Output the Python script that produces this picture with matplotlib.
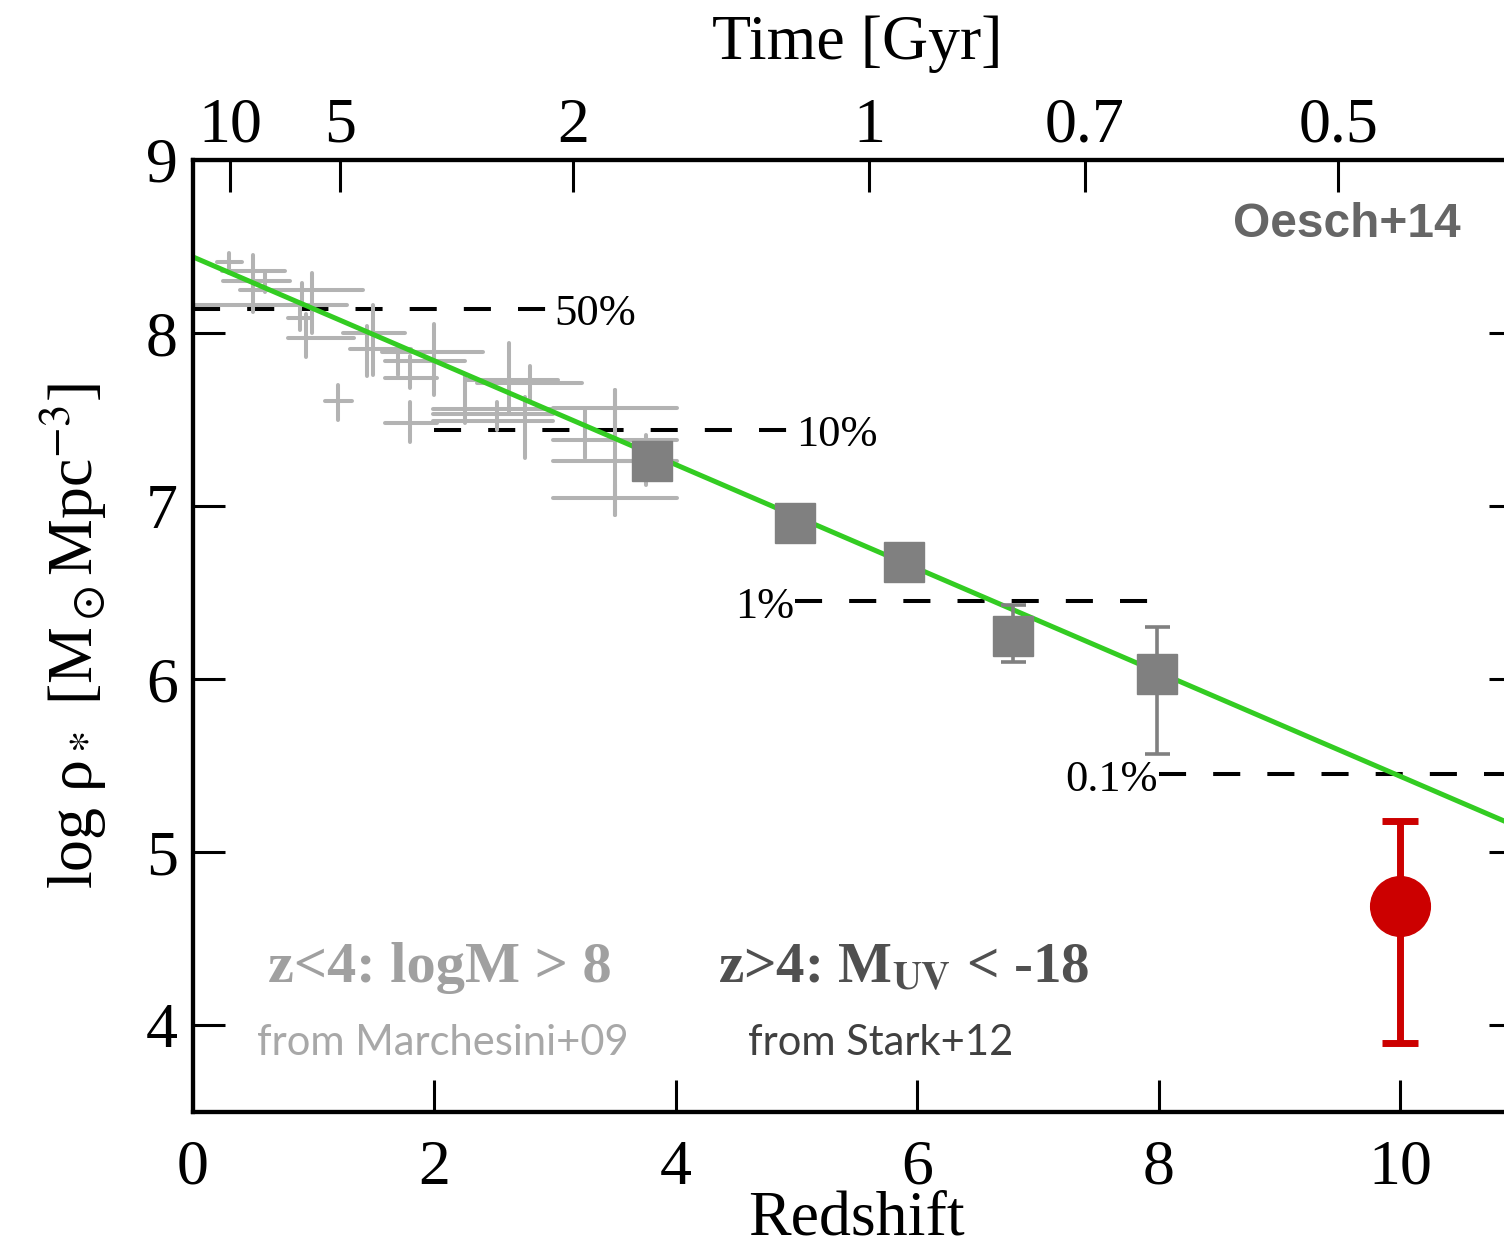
import matplotlib
matplotlib.use("Agg")
import matplotlib.pyplot as plt
import numpy as np

plt.rcParams['font.family'] = ['Liberation Serif', 'DejaVu Serif']
plt.rcParams['mathtext.fontset'] = 'stix'
plt.rcParams['lines.scale_dashes'] = False

# ---- data ----
# Marchesini+09 gray crosses: x center, x lo, x hi, y center, y lo, y hi
m09_z    = [0.30, 0.50, 0.60, 0.90, 0.99, 0.89, 0.94, 1.20, 1.49, 1.44, 2.00, 1.70, 1.80, 1.80, 2.62, 2.79, 2.25, 2.52, 2.75, 3.25, 3.50, 3.50, 3.50, 3.75]
m09_zlo  = [0.20, 0.24, 0.25, 0.39, 0.00, 0.79, 0.79, 1.09, 1.24, 1.30, 1.57, 1.59, 1.59, 1.59, 2.25, 2.35, 1.99, 1.99, 1.99, 2.98, 2.98, 2.98, 2.98, 3.50]
m09_zhi  = [0.41, 0.76, 0.80, 1.41, 1.28, 0.97, 1.33, 1.32, 1.76, 1.81, 2.40, 2.25, 2.02, 2.02, 3.02, 3.22, 2.98, 2.98, 2.98, 4.01, 4.01, 4.01, 4.01, 4.00]
m09_rho  = [8.41, 8.36, 8.30, 8.25, 8.16, 8.09, 7.97, 7.61, 8.00, 7.91, 7.89, 7.84, 7.74, 7.48, 7.73, 7.71, 7.56, 7.53, 7.49, 7.38, 7.26, 7.05, 7.57, 7.26]
m09_rlo  = [8.35, 8.12, 8.24, 8.16, 8.00, 8.02, 7.86, 7.50, 7.76, 7.75, 7.64, 7.76, 7.68, 7.37, 7.53, 7.60, 7.48, 7.44, 7.28, 7.28, 6.95, 6.95, 7.47, 7.12]
m09_rhi  = [8.46, 8.45, 8.35, 8.29, 8.35, 8.16, 8.11, 7.70, 8.16, 8.04, 8.05, 7.93, 7.87, 7.60, 7.94, 7.81, 7.75, 7.60, 7.63, 7.57, 7.67, 7.12, 7.67, 7.41]

# Stark+12 squares
s12_z   = [3.80, 4.99, 5.89, 6.79, 7.99]
s12_rho = [7.26, 6.90, 6.68, 6.25, 6.03]
s12_lo  = [7.26, 6.90, 6.68, 6.10, 5.57]
s12_hi  = [7.26, 6.90, 6.68, 6.43, 6.30]

# Oesch+14 z~10 point
o14_z, o14_rho, o14_lo, o14_hi = [10.0], [4.69], [3.90], [5.18]

# fit line
fit_z = [0.0, 11.0]
fit_intercept, fit_slope = 8.44, -0.30

# fractions of present-day density
frac_labels = ['50%', '10%', '1%', '0.1%']
frac_rho    = [8.14, 7.44, 6.45, 5.45]
frac_zstart = [0.0, 2.0, 4.99, 8.0]
frac_zend   = [2.94, 4.95, 7.93, 11.0]

# top axis: cosmic time
time_labels = ['10', '5', '2', '1', '0.7', '0.5']
time_z      = [0.31, 1.22, 3.15, 5.60, 7.39, 9.49]

xticks = [0, 2, 4, 6, 8, 10]
yticks = [4, 5, 6, 7, 8, 9]

# ---- figure ----
fig = plt.figure(figsize=(15.04, 12.51), dpi=100)
W, H = 1504, 1251
x0, x1, y0, y1 = 193, 193 + 11 * 120.7, 160, 1112
ax = fig.add_axes([x0 / W, 1 - y1 / H, (x1 - x0) / W, (y1 - y0) / H])
ax.set_xlim(0, 11)
ax.set_ylim(3.5, 9)

# gray crosses
cross_c = '#b3b3b3'
for z, zl, zh, r, rl, rh in zip(m09_z, m09_zlo, m09_zhi, m09_rho, m09_rlo, m09_rhi):
    ax.plot([zl, zh], [r, r], color=cross_c, lw=2.9, solid_capstyle='round', zorder=2)
    ax.plot([z, z], [rl, rh], color=cross_c, lw=2.9, solid_capstyle='round', zorder=2)

# fit line
fz = np.array(fit_z)
ax.plot(fz, fit_intercept + fit_slope * fz, color='#33cc22', lw=3.6, zorder=3)

# dashed fraction lines
for lab, r, zs, ze in zip(frac_labels, frac_rho, frac_zstart, frac_zend):
    ax.plot([zs, ze], [r, r], color='black', lw=2.9, dashes=(19.5, 19.5), zorder=1)
for lab, r, zs, ze in zip(frac_labels, frac_rho, frac_zstart, frac_zend):
    if lab in ('50%', '10%'):
        ax.text(ze + 0.05, r - 0.03, lab, ha='left', va='center', fontsize=32)
    else:
        ax.text(zs - 0.01, r - 0.03, lab, ha='right', va='center', fontsize=32)

# Stark squares
s12_z_a = np.array(s12_z); s12_r_a = np.array(s12_rho)
yerr = [s12_r_a - np.array(s12_lo), np.array(s12_hi) - s12_r_a]
ax.errorbar(s12_z_a, s12_r_a, yerr=yerr, fmt='s', color='#808080', ms=29,
            mec='#808080', elinewidth=2.6, capsize=9, capthick=2.6, zorder=4)

# Oesch red point
ax.errorbar(o14_z, o14_rho,
            yerr=[[o14_rho[0] - o14_lo[0]], [o14_hi[0] - o14_rho[0]]],
            fmt='o', color='#cc0000', ms=43, elinewidth=5, capsize=13, capthick=5, zorder=5)

# text annotations
ax.text(10.5, 8.63, 'Oesch+14', ha='right', va='center', fontsize=34.5,
        fontweight='bold', family=['Liberation Sans'], color='#666666')
ax.text(0.62, 4.33, 'z<4: logM > 8', ha='left', va='center', fontsize=42,
        fontweight='bold', color='#a0a0a0')
ax.text(4.35, 4.33, r'z>4: M$_{\mathbf{UV}}$ < -18', ha='left', va='center', fontsize=41,
        fontweight='bold', color='#505050')
ax.text(0.53, 3.90, 'from Marchesini+09', ha='left', va='center', fontsize=30,
        family=['Lato'], color='#a8a8a8')
ax.text(4.6, 3.90, 'from Stark+12', ha='left', va='center', fontsize=30,
        family=['Lato'], color='#404040')

# axes style
for s in ax.spines.values():
    s.set_linewidth(3)
ax.set_xticks(xticks)
ax.set_yticks(yticks)
ax.tick_params(axis='both', direction='in', length=23, width=2.2, labelsize=46)
ax.tick_params(axis='x', top=False, pad=20)
ax.tick_params(axis='y', right=True, pad=11)
ax.set_xlabel('Redshift', fontsize=46, labelpad=-5)
ax.set_ylabel(r'log ρ$_*$ [M$_\odot$Mpc$^{-3}$]', fontsize=46)
ax.yaxis.set_label_coords(-0.063, 0.5)

ax2 = ax.twiny()
ax2.set_xlim(ax.get_xlim())
ax2.set_xticks(time_z)
ax2.set_xticklabels(time_labels)
ax2.tick_params(axis='x', direction='in', length=23, width=2.2, labelsize=46, pad=3)
ax2.set_xlabel('Time [Gyr]', fontsize=46, labelpad=28)
for s in ax2.spines.values():
    s.set_linewidth(3)

fig.savefig('out.png', dpi=100)
